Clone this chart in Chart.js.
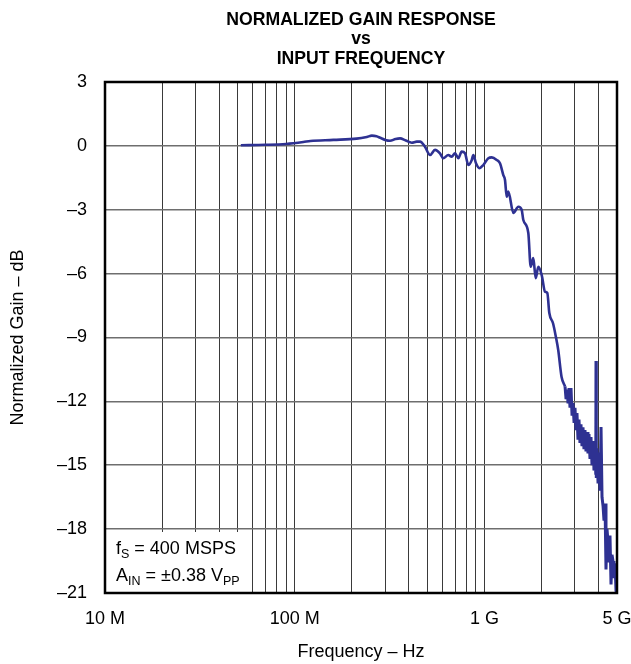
<!DOCTYPE html>
<html lang="en">
<head>
    <meta charset="UTF-8">
    <title>Normalized Gain Response vs Input Frequency</title>
    <script src="https://cdn.jsdelivr.net/npm/chart.js"></script>
    <style>
        html, body { margin: 0; padding: 0; background: #fff; }
        #wrap { width: 631px; height: 664px; position: relative; }
    </style>
</head>
<body>
    <div id="wrap"><canvas id="gain-chart" width="631" height="664"></canvas></div>

    <script>
        // frequency in MHz, gain in dB
        var freqMHz = [
            52, 70, 90, 111, 121, 160, 212, 240, 255, 270, 282, 300, 318, 340, 359, 385, 414, 440, 458, 486,
            517, 549, 583, 607, 645, 672, 700, 729, 759, 790, 823, 858, 874, 903, 940, 987, 1049, 1093, 1161, 1208,
            1258, 1284, 1311, 1337, 1421, 1510, 1573, 1604, 1704, 1754, 1810, 1864, 1924, 2005, 2087, 2146, 2199, 2300, 2380, 2450,
            2550, 2661
        ];
        var gainDb = [
            0.03, 0.05, 0.09, 0.18, 0.23, 0.28, 0.34, 0.42, 0.48, 0.45, 0.38, 0.28, 0.24, 0.32, 0.35, 0.25, 0.15, 0.2, 0.2, -0.04,
            -0.43, -0.19, -0.35, -0.58, -0.43, -0.51, -0.35, -0.58, -0.27, -0.35, -0.9, -0.66, -0.43, -0.82, -1.05, -0.9, -0.58, -0.54, -0.66, -0.82,
            -1.37, -1.6, -2.39, -2.15, -3.15, -2.86, -3.01, -3.48, -4.09, -5.68, -5.27, -6.21, -5.68, -6.07, -6.85, -6.91, -7.85, -8.33, -8.96, -9.59,
            -10.84, -11.3
        ];
        // noisy tail above ~2.6 GHz
        var noiseFreqMHz = [
            2661, 2694, 2727, 2760, 2793, 2827, 2861, 2896, 2931, 2967, 3003, 3039, 3076, 3114, 3152, 3190, 3229, 3269, 3309, 3349,
            3390, 3432, 3474, 3516, 3559, 3603, 3647, 3692, 3737, 3782, 3828, 3865, 3875, 3890, 3924, 3972, 4019, 4069, 4119, 4169,
            4220, 4271, 4324, 4375, 4429, 4483, 4538, 4592, 4650, 4706, 4764, 4819, 4880, 4940, 5000
        ];
        var noiseGainDb = [
            -11.3, -11.9, -11.45, -12.1, -11.38, -12.3, -11.37, -12.6, -12.08, -12.95, -12.3, -13.35, -12.55, -13.8, -12.86, -13.95, -13.08, -14.1, -13.22, -14.25,
            -13.35, -14.35, -13.44, -14.45, -13.53, -14.7, -13.67, -15.0, -13.86, -15.25, -14.05, -15.45, -10.1, -15.6, -14.2, -15.85, -14.4, -16.2, -13.2, -16.5,
            -16.9, -17.6, -16.8, -19.9, -18.0, -18.6, -19.5, -18.3, -20.6, -19.2, -19.5, -20.3, -19.6, -20.9, -21
        ];
        var xTickValues = [10, 20, 30, 40, 50, 60, 70, 80, 90, 100, 200, 300, 400, 500, 600, 700, 800, 900, 1000, 2000, 3000, 4000, 5000];
        var xTickLabels = { 10: '10 M', 100: '100 M', 1000: '1 G', 5000: '5 G' };
        var yTickValues = [3, 0, -3, -6, -9, -12, -15, -18, -21];

        var FONT = '"Liberation Sans", Arial, Helvetica, sans-serif';
        var LINE_COLOR = '#2e3192';

        function toPoints(xs, ys) {
            return xs.map(function(f, i) { return { x: f, y: ys[i] }; });
        }

        // draw text with a subscript part: runs = [[text, isSub], ...]
        function drawRuns(ctx, runs, x, y) {
            runs.forEach(function(r) {
                if (r[1]) {
                    ctx.font = '12.5px ' + FONT;
                    ctx.fillText(r[0], x, y + 4);
                } else {
                    ctx.font = '18px ' + FONT;
                    ctx.fillText(r[0], x, y);
                }
                x += ctx.measureText(r[0]).width;
            });
        }

        var decorPlugin = {
            id: 'decor',
            beforeDatasetsDraw: function(chart) {
                var ctx = chart.ctx;
                var a = chart.chartArea;
                ctx.save();
                // note box
                ctx.fillStyle = '#fff';
                ctx.fillRect(a.left, 532, 146, a.bottom - 532);
                ctx.fillStyle = '#000';
                ctx.textBaseline = 'alphabetic';
                ctx.textAlign = 'left';
                drawRuns(ctx, [['f', false], ['S', true], [' = 400 MSPS', false]], 116, 554);
                drawRuns(ctx, [['A', false], ['IN', true], [' = \u00b10.38 V', false], ['PP', true]], 116, 581);
                ctx.restore();
            },
            afterDraw: function(chart) {
                var ctx = chart.ctx;
                var a = chart.chartArea;
                ctx.save();
                ctx.strokeStyle = '#000';
                ctx.lineWidth = 2.5;
                ctx.strokeRect(a.left, a.top, a.right - a.left, a.bottom - a.top);

                ctx.fillStyle = '#000';
                ctx.textAlign = 'center';
                ctx.textBaseline = 'alphabetic';
                var cx = (a.left + a.right) / 2;
                ctx.font = 'bold 18px ' + FONT;
                var titleLines = [['NORMALIZED GAIN RESPONSE', 25], ['vs', 44], ['INPUT FREQUENCY', 64]];
                titleLines.forEach(function(t) {
                    ctx.save();
                    ctx.translate(cx, t[1]);
                    ctx.scale(0.98, 1);
                    ctx.fillText(t[0], 0, 0);
                    ctx.restore();
                });

                ctx.font = '18px ' + FONT;
                ctx.fillText('Frequency \u2013 Hz', cx, 657);

                ctx.save();
                ctx.translate(23, (a.top + a.bottom) / 2);
                ctx.rotate(-Math.PI / 2);
                ctx.fillText('Normalized Gain \u2013 dB', 0, 0);
                ctx.restore();
                ctx.restore();
            }
        };

        var ctx = document.getElementById('gain-chart').getContext('2d');
        var gainChart = new Chart(ctx, {
            type: 'line',
            data: {
                datasets: [
                    {
                        label: 'Normalized Gain',
                        data: toPoints(freqMHz, gainDb),
                        borderColor: LINE_COLOR,
                        borderWidth: 2.6,
                        pointRadius: 0,
                        cubicInterpolationMode: 'monotone',
                        fill: false
                    },
                    {
                        label: 'Normalized Gain (tail)',
                        data: toPoints(noiseFreqMHz, noiseGainDb),
                        borderColor: LINE_COLOR,
                        borderWidth: 3,
                        pointRadius: 0,
                        tension: 0,
                        fill: false
                    }
                ]
            },
            options: {
                responsive: false,
                animation: false,
                layout: { padding: { left: 0, right: 14, top: 82, bottom: 0 } },
                plugins: {
                    legend: { display: false },
                    title: { display: false },
                    tooltip: { enabled: false }
                },
                scales: {
                    x: {
                        type: 'logarithmic',
                        min: 10,
                        max: 5000,
                        afterBuildTicks: function(scale) {
                            scale.ticks = xTickValues.map(function(v) { return { value: v }; });
                        },
                        afterFit: function(scale) {
                            scale.height = 71;
                            scale.paddingLeft = 0;
                            scale.paddingRight = 0;
                        },
                        grid: { color: '#3a3a3a', lineWidth: 1, drawTicks: false },
                        border: { display: false },
                        ticks: {
                            autoSkip: false,
                            maxRotation: 0,
                            padding: 15,
                            color: '#000',
                            font: { family: FONT, size: 18 },
                            callback: function(v) { return xTickLabels[v] || ''; }
                        }
                    },
                    y: {
                        min: -21,
                        max: 3,
                        afterBuildTicks: function(scale) {
                            scale.ticks = yTickValues.map(function(v) { return { value: v }; });
                        },
                        afterFit: function(scale) {
                            scale.width = 105;
                            scale.paddingTop = 0;
                            scale.paddingBottom = 0;
                        },
                        grid: { color: '#6e6e6e', lineWidth: 1.6, drawTicks: false },
                        border: { display: false },
                        ticks: {
                            padding: 18,
                            color: '#000',
                            font: { family: FONT, size: 18 },
                            callback: function(v) { return v < 0 ? '\u2013' + Math.abs(v) : '' + v; }
                        }
                    }
                }
            },
            plugins: [decorPlugin]
        });
    </script>
</body>
</html>
